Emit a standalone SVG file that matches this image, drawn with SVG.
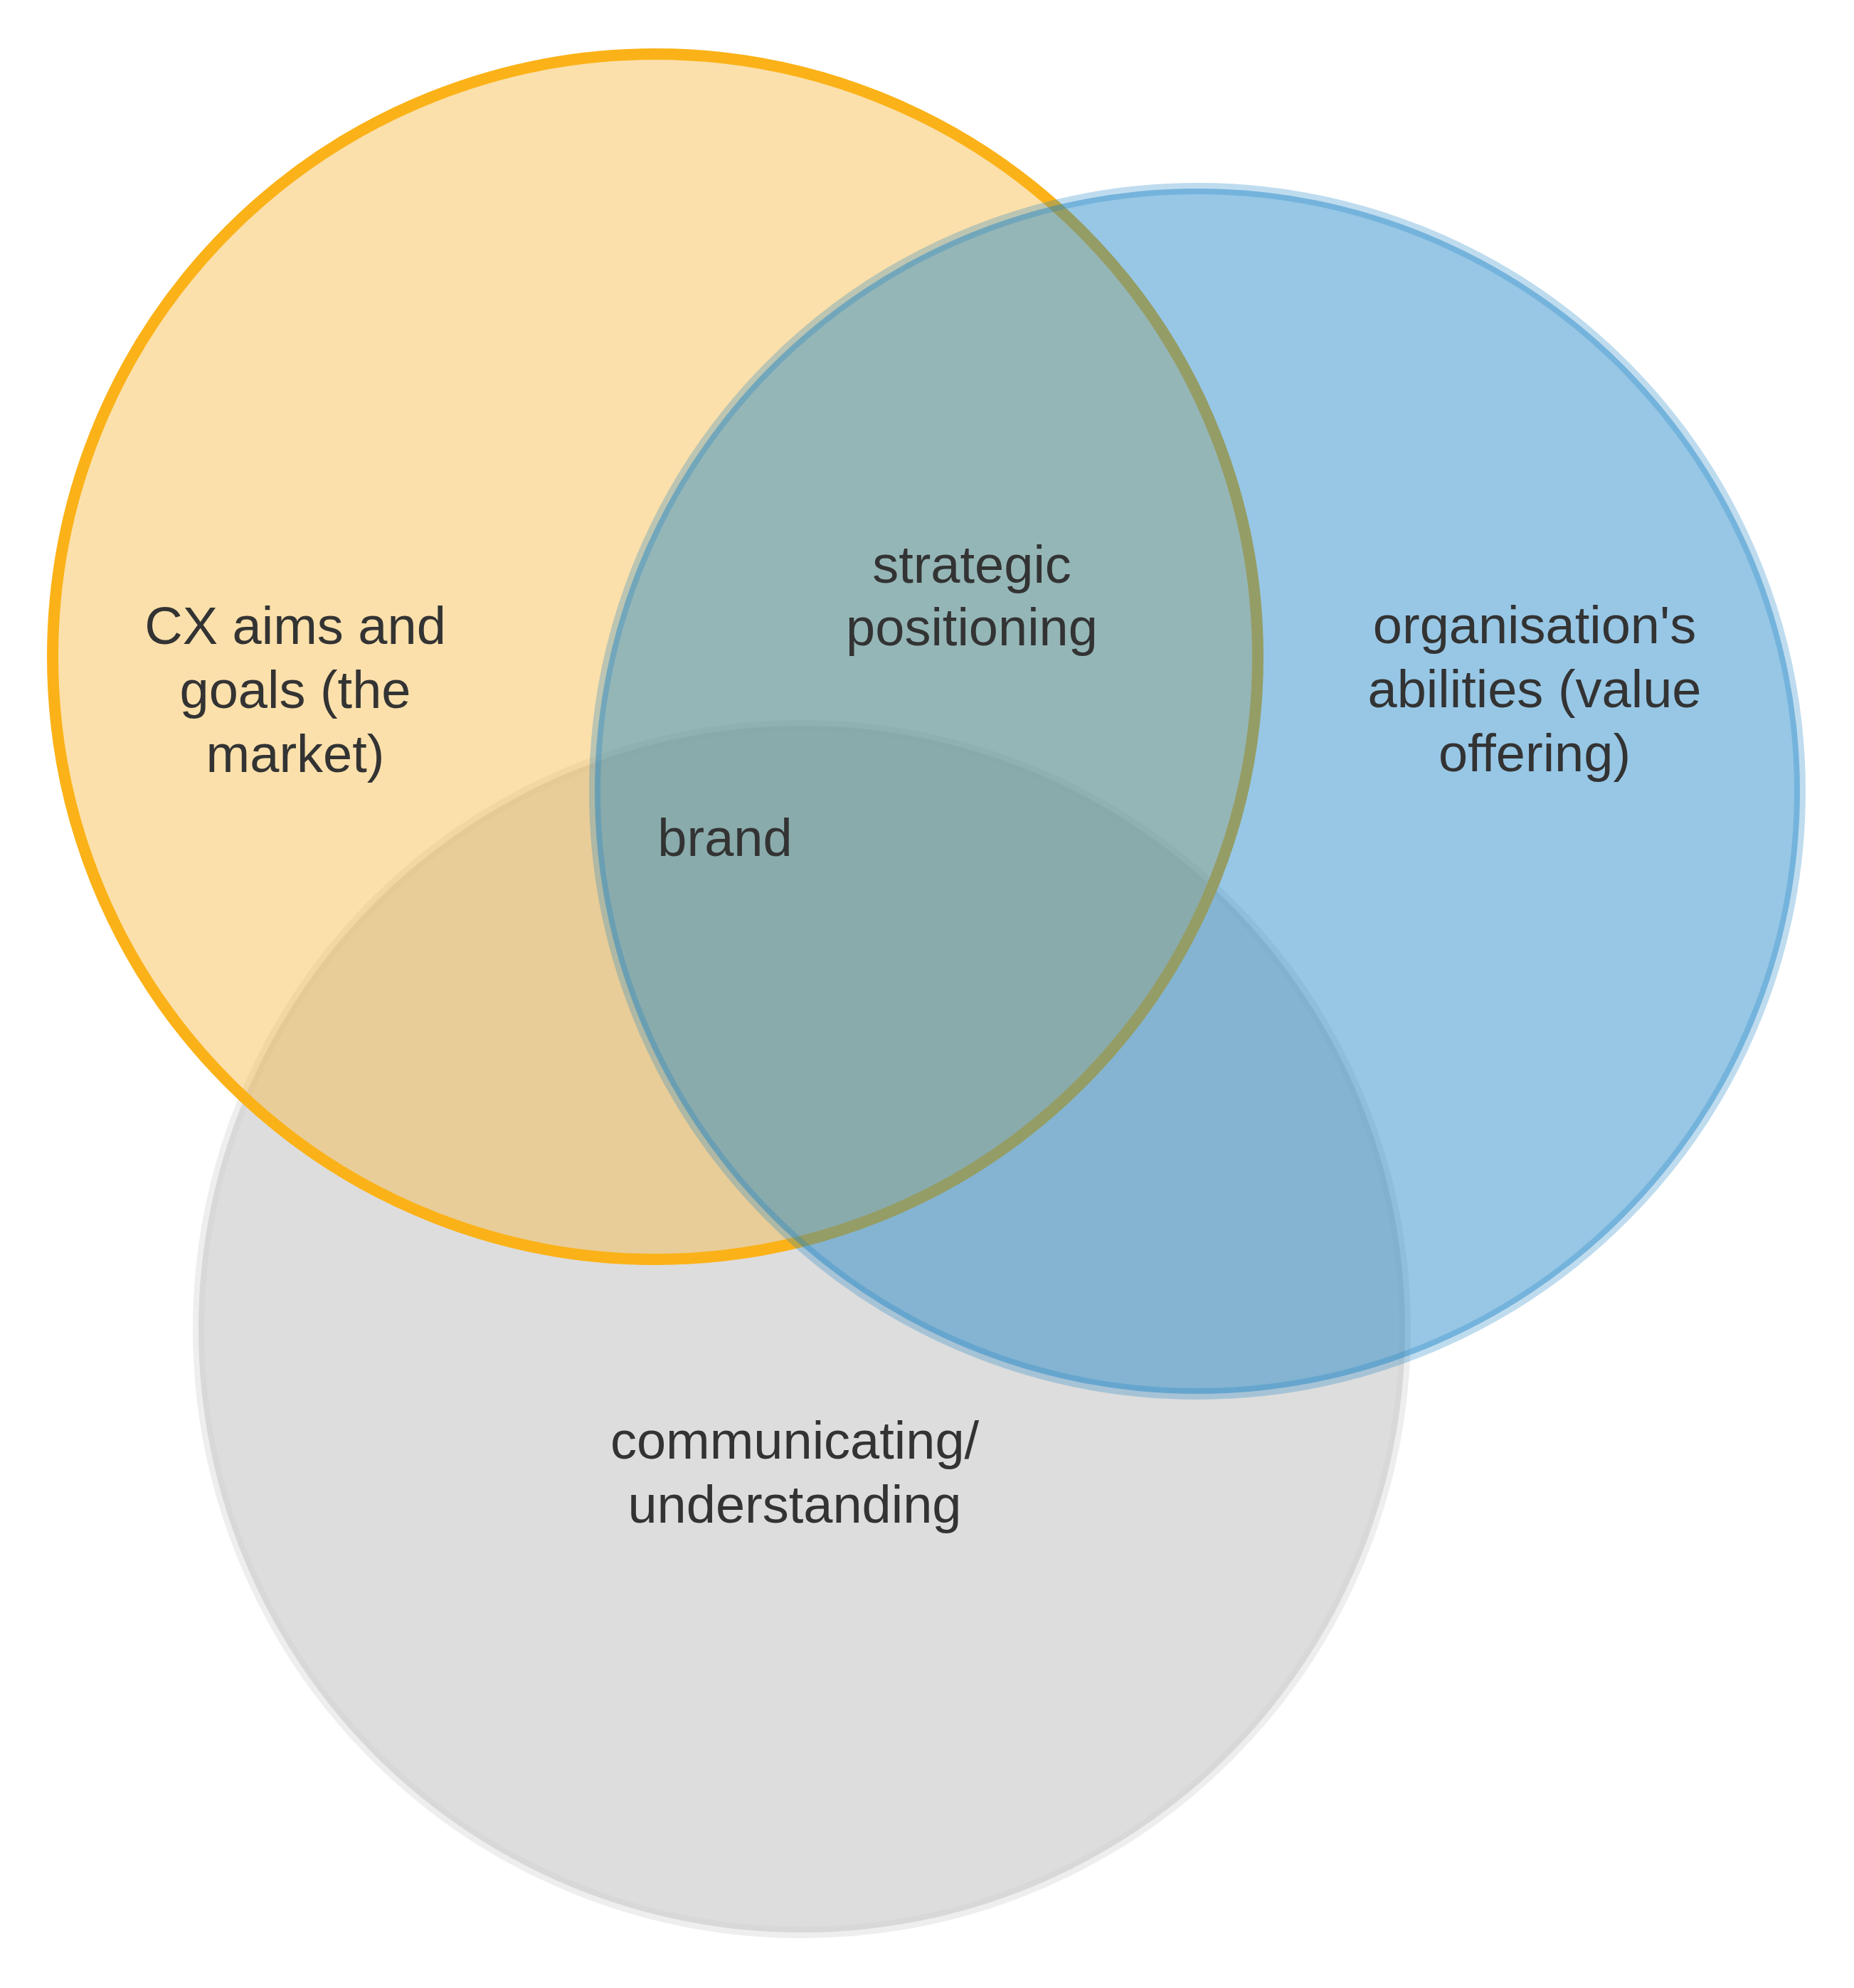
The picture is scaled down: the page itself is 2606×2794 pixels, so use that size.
<svg xmlns="http://www.w3.org/2000/svg" width="2606" height="2794" viewBox="0 0 2606 2794">
<style>
.lbl{font-family:"Liberation Sans",Arial,sans-serif;font-size:74px;fill:#333333;text-anchor:middle}
.gray{fill:#dddddd;stroke:#cecece;stroke-opacity:0.35;stroke-width:16}
.orange{fill:#f6ba44;fill-opacity:0.45;stroke:#fbb218;stroke-width:16}
.blue{fill:#1883c5;fill-opacity:0.45;stroke:#1883c5;stroke-opacity:0.28;stroke-width:16}
</style>
<rect width="2606" height="2794" fill="#ffffff"/>
<g id="communicating">
<circle class="gray" cx="1127" cy="1868" r="848"/>
</g>
<g id="cx-aims">
<circle class="orange" cx="921" cy="923" r="847"/>
</g>
<g id="organisation">
<circle class="blue" cx="1683" cy="1112" r="847"/>
</g>
<g id="labels">
<g id="label-cx"><text class="lbl" x="415" y="905">CX aims and</text><text class="lbl" x="415" y="995">goals (the</text><text class="lbl" x="415" y="1085">market)</text></g>
<g id="label-strategic"><text class="lbl" x="1366" y="819">strategic</text><text class="lbl" x="1366" y="907">positioning</text></g>
<g id="label-org"><text class="lbl" x="2157" y="904">organisation's</text><text class="lbl" x="2157" y="994">abilities (value</text><text class="lbl" x="2157" y="1084">offering)</text></g>
<g id="label-brand"><text class="lbl" x="1019" y="1203">brand</text></g>
<g id="label-communicating"><text class="lbl" x="1117" y="2050">communicating/</text><text class="lbl" x="1117" y="2140">understanding</text></g>
</g>
</svg>
